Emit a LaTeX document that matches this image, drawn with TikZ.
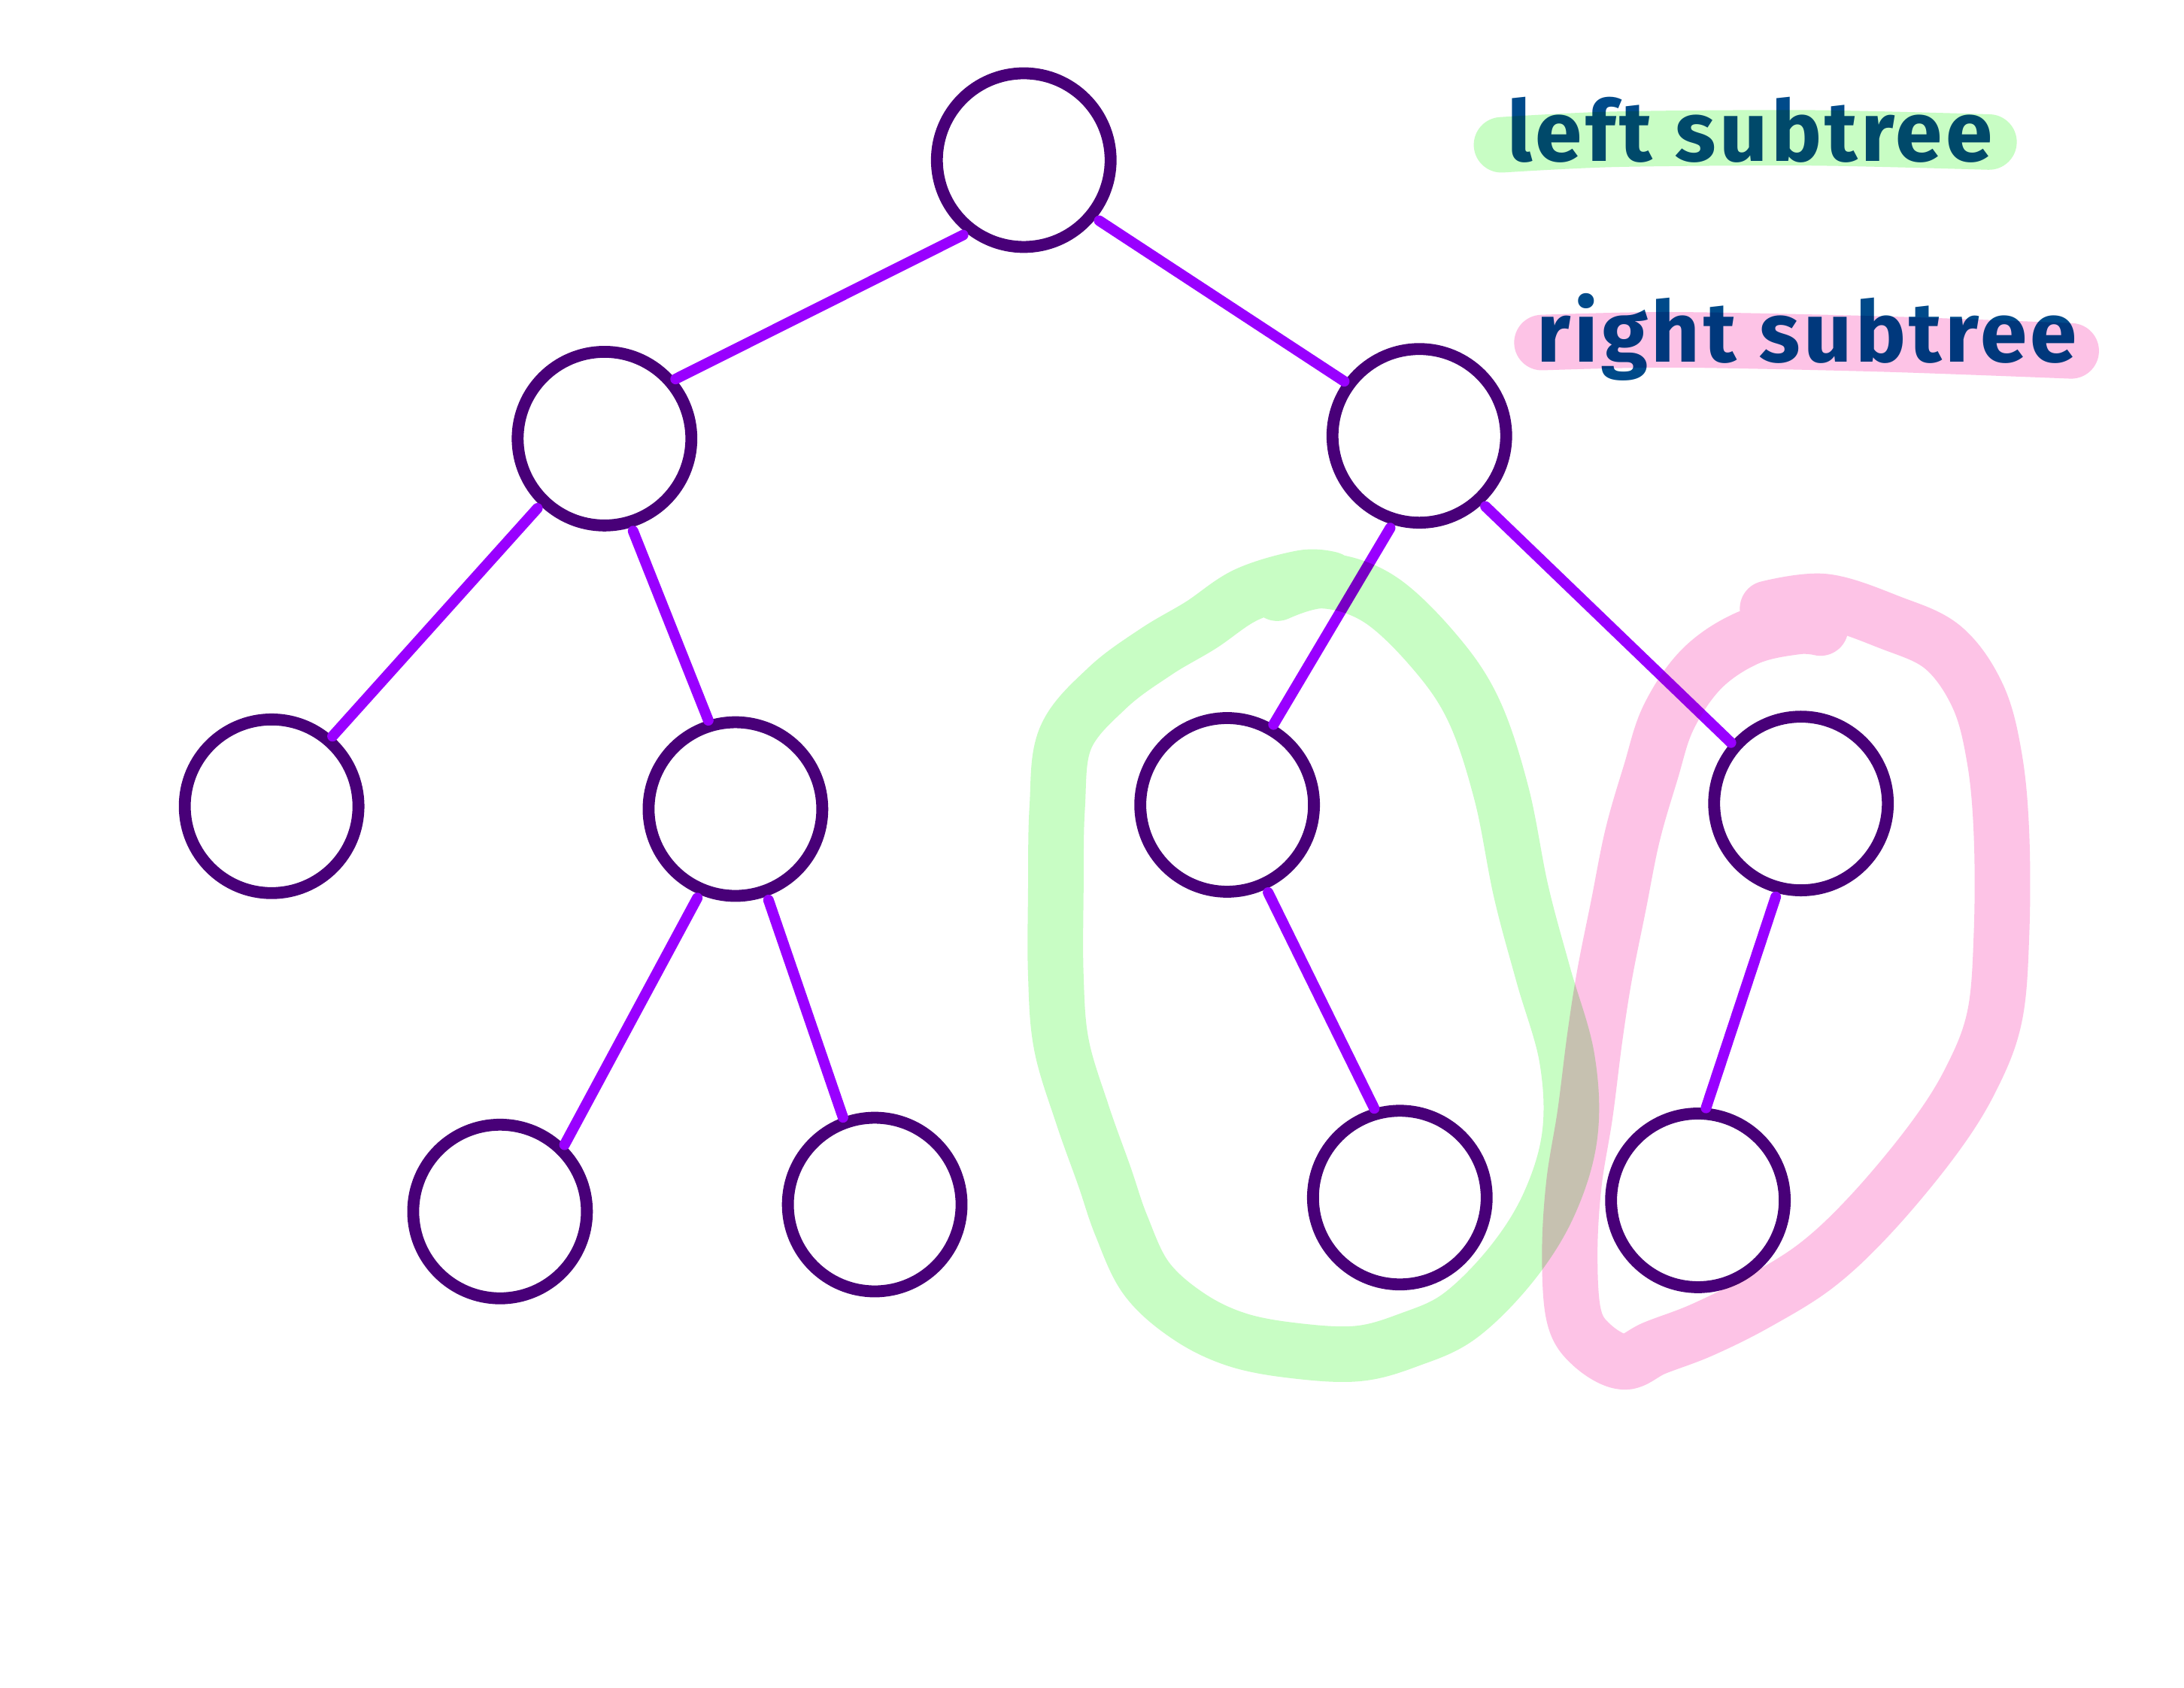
\documentclass[tikz,border=0pt]{standalone}
\usepackage{fontspec}
\newfontfamily\notefont[LetterSpace=4]{Fira Sans}
\usetikzlibrary{positioning,shapes}
\definecolor{nodeline}{RGB}{72,0,120}
\definecolor{edgeline}{RGB}{153,0,255}
\definecolor{hlgreen}{RGB}{200,253,196}
\definecolor{hlpink}{RGB}{253,195,230}
\definecolor{notetext}{RGB}{0,74,138}
\tikzstyle{vertex}=[draw=nodeline,circle,line width=4.5pt,minimum size=2.31cm,inner sep=0pt]
\tikzstyle{edge}=[draw=edgeline,line width=4pt,line cap=round,shorten <=1.5pt]
\tikzstyle{marker}=[line width=21pt,line cap=round,line join=round,blend mode=multiply]
\tikzstyle{note}=[anchor=base west,text=notetext,inner sep=0pt,font=\notefont\bfseries\fontsize{32}{36}\selectfont]
\newcommand{\newVertex}[3]{\node[vertex](#1) at (#2,#3) {};}
\newcommand{\newEdge}[4]{\draw[edge] (#1.#2) -- (#3.#4);}

\begin{document}
\begin{tikzpicture}[x=0.01852cm,y=-0.01852cm]
    \useasboundingbox[fill=white] (0,0) rectangle (1568,1212);
    % tree
    \newVertex{root}{735}{115}
    \newVertex{l}{434}{315}
    \newVertex{r}{1019}{313}
    \newVertex{ll}{195}{579}
    \newVertex{lr}{528}{581}
    \newVertex{rl}{881}{578}
    \newVertex{rr}{1293}{577}
    \newVertex{lrl}{359}{870}
    \newVertex{lrr}{628}{865}
    \newVertex{rlr}{1005}{860}
    \newVertex{rrl}{1219}{862}
    \newEdge{root}{232}{l}{40}
    \newEdge{root}{321}{r}{144}
    \newEdge{l}{226}{ll}{49}
    \newEdge{l}{287}{lr}{107}
    \newEdge{r}{253}{rl}{60}
    \newEdge{r}{313}{rr}{139}
    \newEdge{lr}{247}{lrl}{46}
    \newEdge{lr}{290}{lrr}{110}
    \newEdge{rl}{295}{rlr}{106}
    \newEdge{rr}{255}{rrl}{85}
    % notes
    \node[note] (lefttxt) at (1082,116) {left subtree};
    \node[note] (righttxt) at (1103,260) {right subtree};
    \draw[marker,hlgreen] plot[smooth] coordinates {(1078,104) (1160,100) (1300,99) (1428,102)};
    \draw[marker,hlpink] plot[smooth] coordinates {(1107,246) (1200,244) (1350,247) (1487,252)};
    % loops
    \draw[marker,hlgreen] plot[smooth,tension=0.6] coordinates {(917,426) (950,417) (990,430) (1030,468) (1058,510) (1078,570) (1092,640) (1108,700) (1125,760) (1127,815) (1112,865) (1085,908) (1048,945) (1012,962) (975,972) (930,970) (888,962) (853,945) (823,918) (805,880) (793,845) (777,800) (762,750) (758,700) (758,640) (759,580) (765,530) (795,494) (830,468) (862,449) (895,427) (935,415) (955,416)};
    \draw[marker,hlpink] plot[smooth,tension=0.6] coordinates {(1269,437) (1310,432) (1357,447) (1395,465) (1420,500) (1432,545) (1437,600) (1437,670) (1432,730) (1415,775) (1388,818) (1345,870) (1305,908) (1262,935) (1222,955) (1188,968) (1166,978) (1143,966) (1130,945) (1127,900) (1130,850) (1138,800) (1145,745) (1152,700) (1162,650) (1172,600) (1185,555) (1198,515) (1222,480) (1255,458) (1290,450) (1307,451)};
\end{tikzpicture}
\end{document}
